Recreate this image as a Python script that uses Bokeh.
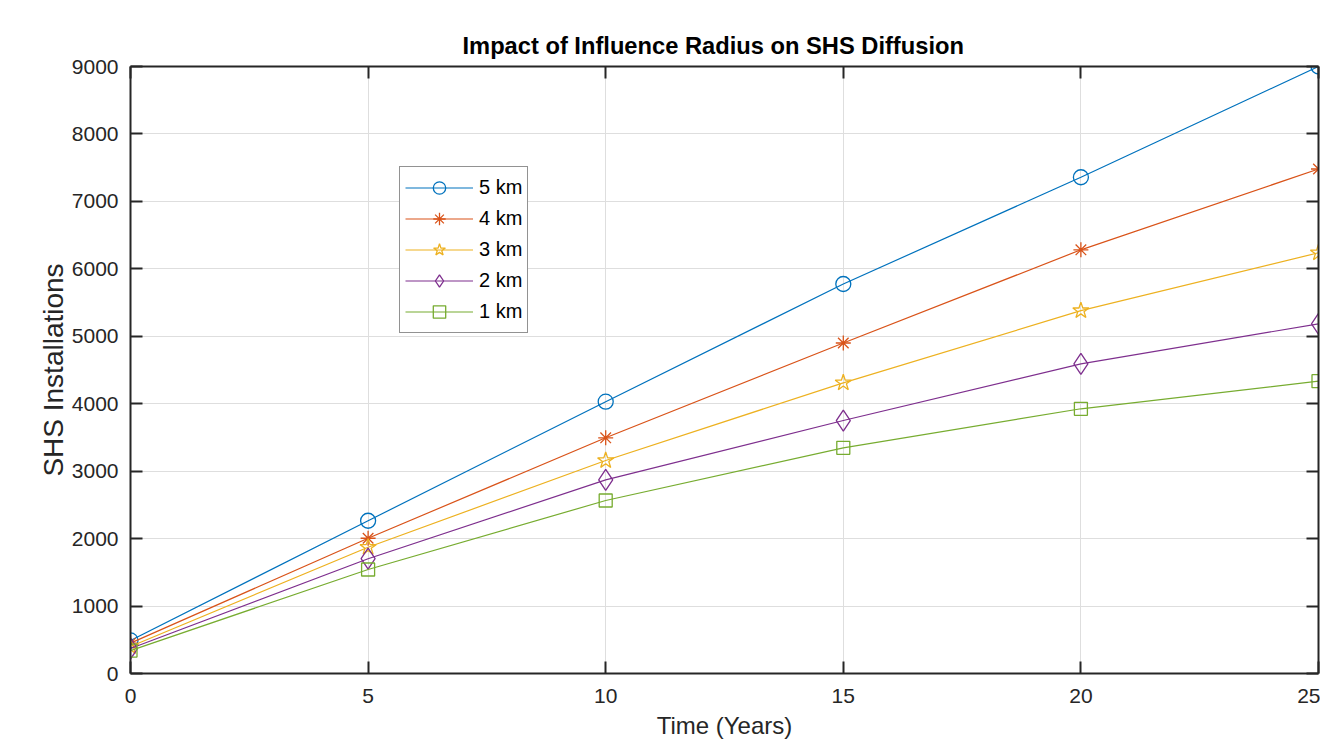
from bokeh.plotting import figure
from bokeh.models import Range1d, FixedTicker, LinearAxis, Legend
from bokeh.embed import file_html
from bokeh.resources import INLINE

years = [0, 5, 10, 15, 20, 25]
r5 = [490, 2265, 4030, 5775, 7358, 9000]
r4 = [450, 2005, 3495, 4900, 6282, 7480]
r3 = [400, 1872, 3158, 4310, 5380, 6238]
r2 = [370, 1702, 2870, 3751, 4590, 5185]
r1 = [340, 1542, 2565, 3346, 3925, 4334]

series_labels = ["5 km", "4 km", "3 km", "2 km", "1 km"]
series_data = [r5, r4, r3, r2, r1]
colors = ["#0072BD", "#D95319", "#EDB120", "#7E2F8E", "#77AC30"]
markers = ["circle", "asterisk", "star", "diamond", "square"]
msizes = [15, 15, 17, 21, 13]

x_ticks = [0, 5, 10, 15, 20, 25]
y_ticks = [0, 1000, 2000, 3000, 4000, 5000, 6000, 7000, 8000, 9000]

FONT = "Liberation Sans"
AX = "#262626"

p = figure(width=1320, height=747, output_backend="svg", toolbar_location=None,
           x_range=Range1d(0, 25), y_range=Range1d(0, 9000),
           min_border_left=130, min_border_right=2, min_border_top=66,
           min_border_bottom=74, x_axis_label="Time (Years)",
           y_axis_label="SHS Installations")

p.title.text = "Impact of Influence Radius on SHS Diffusion"
p.title.align = "left"
p.title.offset = 332
p.title.standoff = 16
p.title.text_font = FONT
p.title.text_font_size = "23.7px"
p.title.text_font_style = "bold"
p.title.text_color = "#000000"

for ax in (p.xaxis[0], p.yaxis[0]):
    ax.axis_line_color = AX
    ax.axis_line_width = 2
    ax.major_tick_line_color = AX
    ax.major_tick_line_width = 2
    ax.major_tick_in = 12
    ax.major_tick_out = 0
    ax.minor_tick_in = 0
    ax.minor_tick_out = 0
    ax.major_label_text_font = FONT
    ax.major_label_text_font_size = "21px"
    ax.major_label_text_color = AX
    ax.axis_label_text_font = FONT
    ax.axis_label_text_font_style = "normal"
    ax.axis_label_text_color = AX

p.xaxis[0].ticker = FixedTicker(ticks=x_ticks)
p.yaxis[0].ticker = FixedTicker(ticks=y_ticks)
p.xaxis[0].major_label_standoff = 15
p.yaxis[0].major_label_standoff = 12
p.xaxis[0].axis_label_text_font_size = "24px"
p.yaxis[0].axis_label_text_font_size = "28px"
p.xaxis[0].axis_label_standoff = 6
p.yaxis[0].axis_label_standoff = 0

top_axis = LinearAxis(ticker=FixedTicker(ticks=x_ticks))
right_axis = LinearAxis(ticker=FixedTicker(ticks=y_ticks))
for ax in (top_axis, right_axis):
    ax.axis_line_color = AX
    ax.axis_line_width = 2
    ax.major_tick_line_color = AX
    ax.major_tick_line_width = 2
    ax.major_tick_in = 12
    ax.major_tick_out = 0
    ax.minor_tick_in = 0
    ax.minor_tick_out = 0
    ax.major_label_text_font_size = "1px"
    ax.major_label_text_color = None
    ax.major_label_standoff = 0
p.add_layout(top_axis, "above")
p.add_layout(right_axis, "right")

p.xgrid.ticker = FixedTicker(ticks=x_ticks)
p.ygrid.ticker = FixedTicker(ticks=y_ticks)
p.grid.grid_line_color = "#dedede"
p.grid.grid_line_width = 1
p.outline_line_color = None
p.background_fill_color = "white"
p.border_fill_color = "white"

items = []
for lab, ys, col, mk, ms in zip(series_labels, series_data, colors, markers, msizes):
    ln = p.line(years, ys, line_color=col, line_width=1.2)
    sc = p.scatter(years, ys, marker=mk, size=ms, line_color=col, fill_color=None,
                   line_width=1.3)
    items.append((lab, [ln, sc]))

legend = Legend(items=items, location=(269, 340))
legend.label_text_font = FONT
legend.label_text_font_size = "20px"
legend.label_text_color = "#000000"
legend.glyph_width = 68
legend.glyph_height = 31
legend.label_height = 20
legend.label_standoff = 6
legend.spacing = 0
legend.padding = 5
legend.margin = 0
legend.border_line_color = AX
legend.border_line_width = 1
legend.background_fill_color = "white"
legend.background_fill_alpha = 1
p.add_layout(legend, "center")

open("out.html", "w").write(file_html(p, INLINE))
